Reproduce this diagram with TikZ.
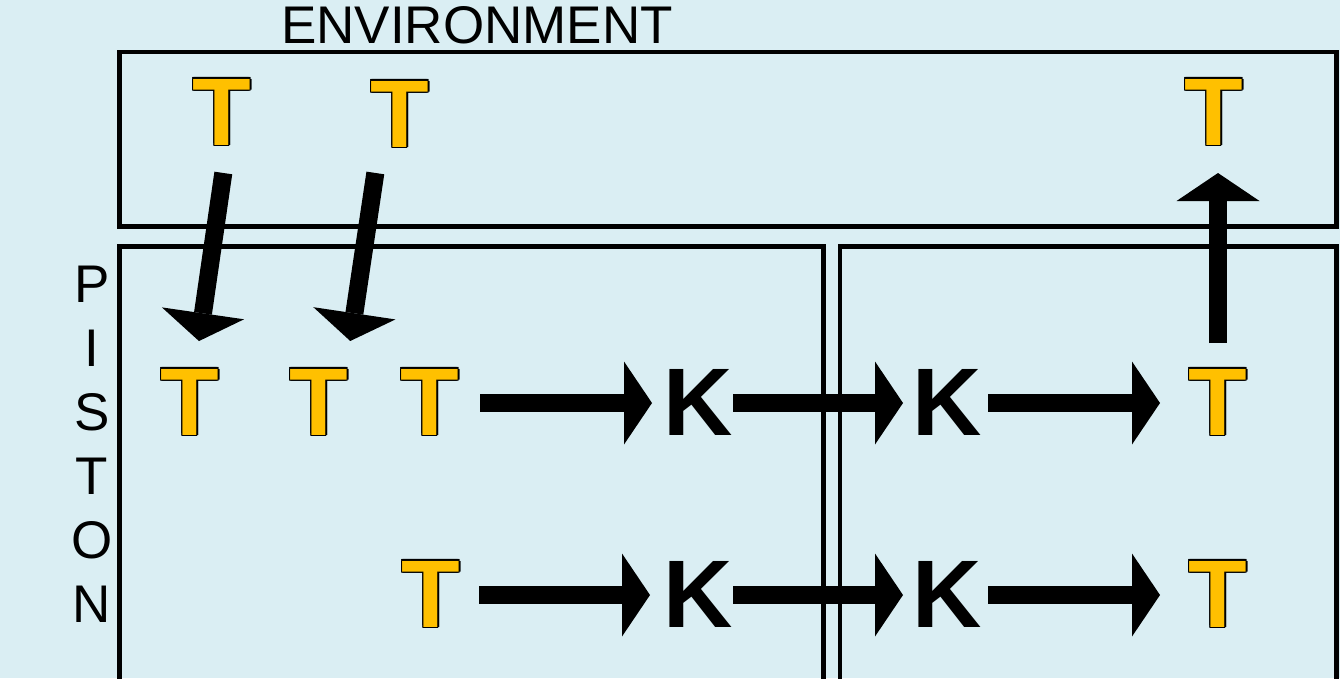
\documentclass[tikz,border=0pt]{standalone}
\usepackage{fontspec}
\setmainfont{Liberation Sans}
\usetikzlibrary{arrows.meta}
\definecolor{bgblue}{HTML}{DAEEF3}
\definecolor{tyellow}{HTML}{FFC000}
\newcommand\oc[3]{\rlap{\kern#1\raisebox{#2}{#3}}}
\newcommand\yT{{\color{black}\oc{1.6pt}{0pt}{T}\oc{-1.6pt}{0pt}{T}\oc{0pt}{1.6pt}{T}\oc{0pt}{-1.6pt}{T}\oc{1.13pt}{1.13pt}{T}\oc{-1.13pt}{1.13pt}{T}\oc{1.13pt}{-1.13pt}{T}\oc{-1.13pt}{-1.13pt}{T}}\textcolor{tyellow}{T}}
\tikzset{
  box/.style={draw=black, line width=4.4pt, line join=miter},
  sym/.style={anchor=base, inner sep=0pt, text height=70pt, text depth=6pt,
    font=\fontsize{96}{96}\selectfont\bfseries},
  lbl/.style={anchor=base, inner sep=0pt, font=\fontsize{53}{53}\selectfont},
  fat/.style={line width=18pt, -{Triangle[length=28pt,width=83pt,line width=0pt]}},
}
\begin{document}
\begin{tikzpicture}[x=1pt,y=-1pt]
\useasboundingbox (0,0) rectangle (1340,678);
\fill[bgblue] (0,0) rectangle (1340,678);
% boxes
\draw[box] (119.5,52) rectangle (1336.5,226.5);
\draw[box] (119.5,700) |- (823.5,246.5) -- (823.5,700);
\draw[box] (840,700) |- (1336.5,246.5) -- (1336.5,700);
% labels
\node[lbl] (env) at (477,43) {ENVIRONMENT};
\foreach \l/\y [count=\i] in {P/302,I/366,S/430,T/494,O/558,N/622}
  \node[lbl] (pis\i) at (92,\y) {\l};
% top T
\node[sym] (tt1) at (222,145) {\yT};
\node[sym] (tt2) at (400,147) {\yT};
\node[sym] (ttr) at (1214,145) {\yT};
% row 1
\node[sym] (p1) at (190,435) {\yT};
\node[sym] (p2) at (319,435) {\yT};
\node[sym] (p3) at (430,435) {\yT};
\node[sym] (k1) at (698,435) {K};
\node[sym] (k2) at (947,435) {K};
\node[sym] (r1) at (1218,435) {\yT};
% row 2
\node[sym] (q3) at (431,627) {\yT};
\node[sym] (m1) at (698,627) {K};
\node[sym] (m2) at (947,627) {K};
\node[sym] (r2) at (1218,627) {\yT};
% arrows
\draw[fat, shorten <=60.6pt, shorten >=62.6pt] ([xshift=10pt]tt1.center) -- (p1.center);
\draw[fat, shorten <=58.6pt, shorten >=62.7pt] ([xshift=-16pt]tt2.center) -- ([xshift=22pt]p2.center);
\draw[fat, shorten <=60pt, shorten >=60pt] (r1.center) -- (r1.center |- ttr.center);
\draw[fat, shorten <=50pt, shorten >=46pt] (p3.center) -- (k1.center);
\draw[fat, shorten <=35pt, shorten >=44pt] (k1.center) -- (k2.center);
\draw[fat, shorten <=41pt, shorten >=58pt] (k2.center) -- (r1.center);
\draw[fat, shorten <=48pt, shorten >=48pt] (q3.center) -- (m1.center);
\draw[fat, shorten <=35pt, shorten >=44pt] (m1.center) -- (m2.center);
\draw[fat, shorten <=41pt, shorten >=58pt] (m2.center) -- (r2.center);
\end{tikzpicture}
\end{document}
